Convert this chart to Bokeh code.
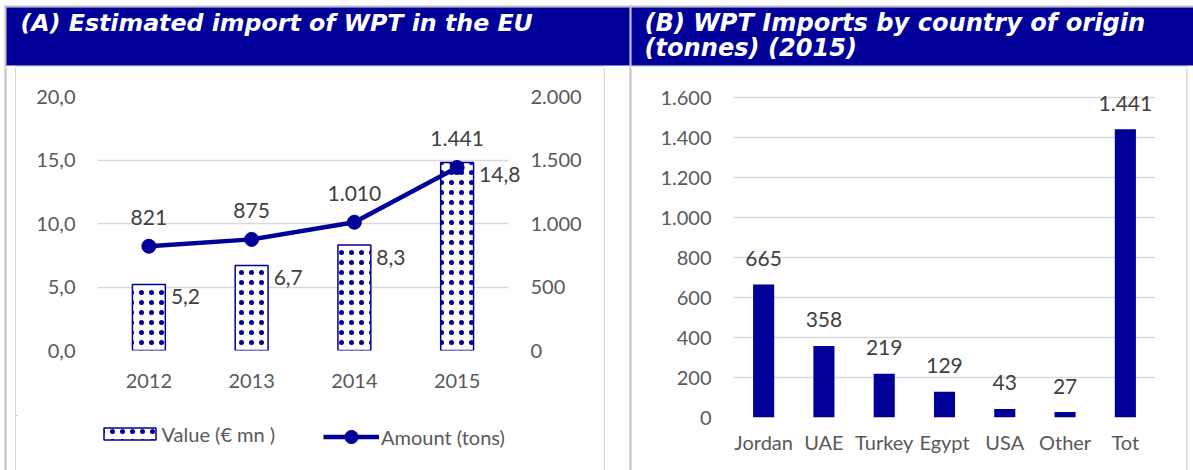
from bokeh.plotting import figure
from bokeh.models import (ColumnDataSource, FactorRange, Range1d, LinearAxis, FixedTicker,
                          LabelSet, Legend, LegendItem)
from bokeh.layouts import column, row
from bokeh.embed import file_html
from bokeh.resources import INLINE
from bokeh.core.properties import value

# ---------------- data ----------------
years = ["2012", "2013", "2014", "2015"]
value_eur_mn = [5.2, 6.7, 8.3, 14.8]
amount_tons = [821, 875, 1010, 1441]
value_labels = ["5,2", "6,7", "8,3", "14,8"]
amount_labels = ["821", "875", "1.010", "1.441"]
value_ticks = [0, 5, 10, 15, 20]
value_tick_labels = ["0,0", "5,0", "10,0", "15,0", "20,0"]
amount_ticks = [0, 500, 1000, 1500, 2000]
amount_tick_labels = ["0", "500", "1.000", "1.500", "2.000"]

countries = ["Jordan", "UAE", "Turkey", "Egypt", "USA", "Other", "Tot"]
tonnes_2015 = [665, 358, 219, 129, 43, 27, 1441]
tonnes_labels = ["665", "358", "219", "129", "43", "27", "1.441"]
tonnes_ticks = [0, 200, 400, 600, 800, 1000, 1200, 1400, 1600]
tonnes_tick_labels = ["0", "200", "400", "600", "800", "1.000", "1.200", "1.400", "1.600"]

title_a = "(A) Estimated import of WPT in the EU"
title_b = ["(B) WPT Imports by country of origin", "(tonnes) (2015)"]
legend_labels = ["Value (\u20ac mn )", "Amount (tons)"]

# ---------------- style ----------------
NAVY = "#000099"
GRID = "#d9d9d9"
TICK = "#595959"
LAB = "#404040"
CELL = "#bfbfbf"
FONT = "Lato"
TITLE_FONT = "DejaVu Sans"
W, H = 1193, 470
TOP = 67  # body starts here


def deco_fig(x0, x1, y0, y1):
    f = figure(width=x1 - x0, height=y1 - y0, x_range=Range1d(x0, x1), y_range=Range1d(y1, y0),
               x_axis_type=None, y_axis_type=None, min_border=0, frame_align=False,
               output_backend="svg", toolbar_location=None)
    f.grid.visible = False
    f.outline_line_color = None
    return f


def style_axes(p):
    for ax in p.axis:
        ax.axis_line_color = None
        ax.major_tick_line_color = None
        ax.minor_tick_line_color = None
        ax.major_tick_out = 0
        ax.minor_tick_out = 0
        ax.major_label_text_font = FONT
        ax.major_label_text_font_size = "20px"
        ax.major_label_text_color = TICK
    p.xgrid.grid_line_color = None
    p.ygrid.grid_line_color = GRID
    p.ygrid.grid_line_width = 1.5
    p.outline_line_color = None


# ---------------- header ----------------
hdr = deco_fig(0, W, 0, TOP)
hdr.quad(left=[4], right=[W], top=[5], bottom=[7], fill_color=CELL, line_color=None)
hdr.quad(left=[4, 629], right=[6, 631], top=[5, 5], bottom=[TOP, TOP], fill_color=CELL, line_color=None)
hdr.quad(left=[6, 631], right=[629, W], top=[7, 7], bottom=[65, 65], fill_color=NAVY, line_color=None)
hdr.quad(left=[15, 632], right=[603, 1187], top=[65.5, 65.5], bottom=[67, 67],
         fill_color=GRID, line_color=None)
hdr.text(x=[20], y=[22], text=[title_a], text_font=value(TITLE_FONT),
         text_font_style="bold italic", text_font_size="23.7px", text_color="white",
         text_baseline="alphabetic")
hdr.text(x=[644, 644], y=[22, 47], text=title_b, text_font=value(TITLE_FONT),
         text_font_style="bold italic", text_font_size="24.1px", text_color="white",
         text_baseline="alphabetic")

# ---------------- border strips ----------------
def strip(x0, x1, lines):
    f = deco_fig(x0, x1, TOP, H)
    for a, b, c in lines:
        f.quad(left=[a], right=[b], top=[TOP], bottom=[H], fill_color=c, line_color=None)
    return f


strip_l = strip(0, 16, [(4, 6, CELL), (14.5, 16, GRID)])
strip_m = strip(603, 633, [(603, 604.5, GRID), (629, 631, CELL)])
strip_r = strip(1185, W, [(1185.5, 1187, GRID)])

# ---------------- panel A ----------------
src_a = ColumnDataSource(dict(year=years, val=value_eur_mn, amt=amount_tons,
                              vlab=value_labels, alab=amount_labels))

pa = figure(width=587, height=348,
            x_range=FactorRange(*years, range_padding=0.1168, range_padding_units="absolute"),
            y_range=Range1d(0, 20),
            min_border_left=69, min_border_right=83, min_border_top=29, min_border_bottom=65,
            frame_align=False, output_backend="svg", toolbar_location=None)
pa.extra_y_ranges = {"amt": Range1d(0, 2000)}

bar_style = dict(fill_color="white", line_color=NAVY, line_width=1.5, hatch_pattern="dot",
                 hatch_color=NAVY, hatch_scale=10, hatch_weight=1.2)
pa.vbar(x="year", top="val", width=0.32, source=src_a, **bar_style)
line_style = dict(line_color=NAVY, line_width=4.5)
pa.line(x="year", y="amt", y_range_name="amt", source=src_a, **line_style)
pa.scatter(x="year", y="amt", y_range_name="amt", source=src_a,
           size=14, fill_color=NAVY, line_color=NAVY)

pa.yaxis.ticker = FixedTicker(ticks=value_ticks)
pa.yaxis.major_label_overrides = dict(zip(value_ticks, value_tick_labels))
pa.yaxis.major_label_standoff = 10
pa.ygrid.ticker = FixedTicker(ticks=value_ticks)
pa.ygrid.cross_bounds = (0, 4)
ax_r = LinearAxis(y_range_name="amt", ticker=FixedTicker(ticks=amount_ticks),
                  major_label_overrides=dict(zip(amount_ticks, amount_tick_labels)),
                  major_label_standoff=10)
pa.add_layout(ax_r, "right")
pa.xaxis.major_label_standoff = 23
style_axes(pa)

pa.add_layout(LabelSet(x="year", y="val", text="vlab", source=src_a, x_offset=22, y_offset=-12,
                       text_align="left", text_baseline="middle", text_font=value(FONT),
                       text_font_size="21px", text_color=LAB))
pa.add_layout(LabelSet(x="year", y="amt", y_range_name="amt", text="alab", source=src_a,
                       y_offset=29, text_align="center", text_baseline="middle",
                       text_font=value(FONT), text_font_size="21px", text_color=LAB))

# ---------------- legend of panel A (proxies lie far outside the visible ranges) ----------------
lg = deco_fig(16, 603, 415, H)
lg_bar = lg.vbar(x=[-5000], top=[-5000], bottom=[-5010], width=1, **bar_style)
lg_line = lg.line(x=[-5000, -4990], y=[-5000, -5000], **line_style)
lg_dot = lg.scatter(x=[-5000], y=[-5000], size=14, fill_color=NAVY, line_color=NAVY)
leg_common = dict(orientation="horizontal", padding=0, margin=0, spacing=0,
                  border_line_color=None, background_fill_alpha=0,
                  label_text_font=FONT, label_text_font_size="20px", label_text_color=TICK)
leg1 = Legend(items=[LegendItem(label=legend_labels[0], renderers=[lg_bar])],
              location=(80.5, 24.5), glyph_width=65, glyph_height=15, label_height=15,
              label_standoff=0, **leg_common)
leg2 = Legend(items=[LegendItem(label=legend_labels[1], renderers=[lg_line, lg_dot])],
              location=(307, 17), glyph_width=56, glyph_height=33, label_height=33,
              label_standoff=2, **leg_common)
lg.add_layout(leg1)
lg.add_layout(leg2)

# ---------------- panel B ----------------
src_b = ColumnDataSource(dict(country=countries, t=tonnes_2015, lab=tonnes_labels))
pb = figure(width=552, height=H - TOP, x_range=FactorRange(*countries), y_range=Range1d(0, 1750),
            min_border_left=100, min_border_right=30, min_border_top=0, min_border_bottom=53,
            frame_align=False, output_backend="svg", toolbar_location=None)
pb.vbar(x="country", top="t", width=0.35, source=src_b, fill_color=NAVY, line_color=None)
pb.yaxis.ticker = FixedTicker(ticks=tonnes_ticks)
pb.yaxis.major_label_overrides = dict(zip(tonnes_ticks, tonnes_tick_labels))
pb.yaxis.major_label_standoff = 22
pb.ygrid.ticker = FixedTicker(ticks=tonnes_ticks)
pb.xaxis.major_label_standoff = 12
style_axes(pb)
pb.add_layout(LabelSet(x="country", y="t", text="lab", source=src_b, y_offset=26,
                       text_align="center", text_baseline="middle", text_font=value(FONT),
                       text_font_size="21px", text_color=LAB))

body = row(strip_l, column(pa, lg, spacing=0), strip_m, pb, strip_r, spacing=0)
layout = column(hdr, body, spacing=0)
open("out.html", "w").write(file_html(layout, INLINE))
